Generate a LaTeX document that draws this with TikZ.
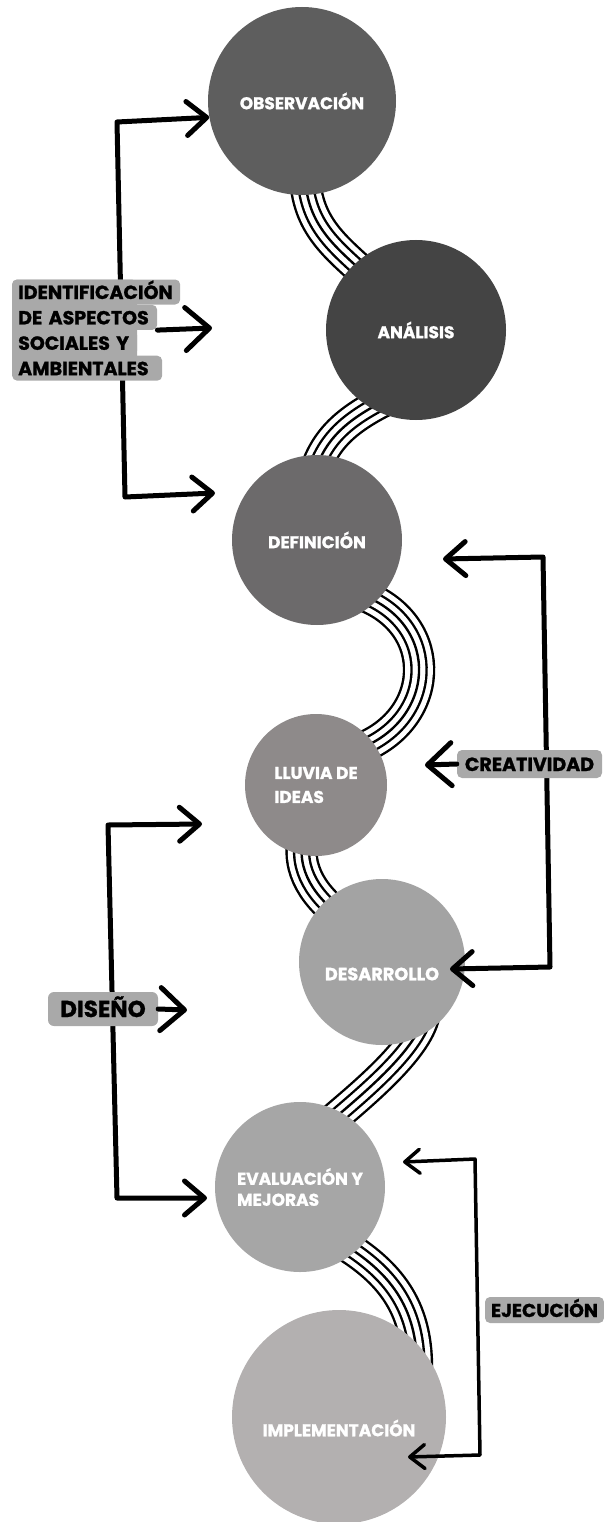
\documentclass[tikz,border=0pt]{standalone}
\usepackage{fontspec}
\setmainfont{Poppins}[BoldFeatures={FakeBold=1.2}]
\usetikzlibrary{arrows.meta,backgrounds,positioning}

\definecolor{grisobs}{HTML}{5E5E5E}
\definecolor{grisana}{HTML}{444444}
\definecolor{grisdef}{HTML}{6C6A6B}
\definecolor{grislluvia}{HTML}{8E8A8A}
\definecolor{grisdes}{HTML}{A3A3A3}
\definecolor{griseva}{HTML}{A6A6A6}
\definecolor{grisimp}{HTML}{B3B0B0}
\definecolor{gristag}{HTML}{A9A9A9}

\begin{document}
\begin{tikzpicture}[x=1pt,y=-1pt,>={Straight Barb[length=20pt,width=34pt,round]}]
	\tikzstyle{etapa} = [circle, inner sep=0pt, text=white, align=left, font=\bfseries\fontsize{17}{22}\selectfont]
	\tikzstyle{rotulo} = [text=white, font=\bfseries\fontsize{17}{22}\selectfont]
	\tikzstyle{tag} = [fill=gristag, rounded corners=5pt, inner xsep=6pt, inner ysep=0pt, text height=14pt, text depth=0pt, font=\bfseries\fontsize{19}{25}\selectfont]
	\tikzstyle{linea} = [tag, align=left, minimum height=25pt]
	\tikzstyle{flecha} = [line width=5pt, line cap=round, line join=round]
	\tikzstyle{flechap} = [flecha, line width=3.5pt, >={Straight Barb[length=15pt,width=24pt,round]}]
	\tikzstyle{puntag} = [-{Straight Barb[length=24pt,width=43pt,round]}]
	\tikzstyle{cinta} = [line width=2.4pt, preaction={draw, line width=32.4pt}, preaction={draw, white, line width=27.6pt}, preaction={draw, line width=17.4pt}, preaction={draw, white, line width=12.6pt}]
	
	\useasboundingbox (0,0) rectangle (604,1522);
	
	% etapas
	\node [etapa, fill=grisobs, minimum size=188pt] (obs) at (302,101) {OBSERVACIÓN};
	\node [etapa, fill=grisana, minimum size=180pt] (ana) at (416,330) {ANÁLISIS};
	\node [etapa, fill=grisdef, minimum size=170pt] (defi) at (317,540) {DEFINICIÓN};
	\node [etapa, fill=grislluvia, minimum size=142pt, font=\bfseries\fontsize{17}{24}\selectfont] (lluvia) at (316,785) {LLUVIA DE\\IDEAS};
	\node [etapa, fill=grisdes, minimum size=166pt, label={[rotulo, yshift=-12pt, font=\bfseries\fontsize{17.7}{22}\selectfont]center:DESARROLLO}] (desa) at (382,962) {};
	\node [etapa, fill=griseva, minimum size=170pt, font=\bfseries\fontsize{17}{21}\selectfont] (eval) at (300,1187) {EVALUACIÓN Y\\MEJORAS};
	\node [etapa, fill=grisimp, minimum size=214pt, label={[rotulo, yshift=-11pt]center:IMPLEMENTACIÓN}] (impl) at (339,1417) {};
	
	% cintas entre etapas
	\begin{scope}[on background layer]
	\draw [cinta] ([shift={(3,75)}]obs.center) .. controls +(2,50) and +(-30,-28) .. ([shift={(-50,-55)}]ana.center);
	\draw [cinta] ([shift={(-30,70)}]ana.center) .. controls +(-40,20) and +(10,-35) .. ([shift={(-3,-65)}]defi.center);
	\draw [cinta] ([shift={(45,55)}]defi.center) .. controls +(80,30) and +(80,-28) .. ([shift={(40,-35)}]lluvia.center);
	\draw [cinta] ([shift={(-12,50)}]lluvia.center) .. controls +(-10,35) and +(-25,-18) .. ([shift={(-40,-45)}]desa.center);
	\draw [cinta] ([shift={(43,50)}]desa.center) .. controls +(-5,35) and +(35,-30) .. ([shift={(30,-65)}]eval.center);
	\draw [cinta] ([shift={(40,55)}]eval.center) .. controls +(50,30) and +(0,-60) .. ([shift={(78,-50)}]impl.center);
	\end{scope}
	
	% esquinas de los corchetes
	\coordinate (idA) at (117,122);
	\coordinate (idB) at (125,497);
	\coordinate (idfin) at (215,493);
	\coordinate (idmed) at (212,328);
	\coordinate (crA) at (543,557);
	\coordinate (crini) at (443,559);
	\coordinate (crB) at (550,967);
	\coordinate (crfin) at (450,969);
	\coordinate (crmed) at (425,765);
	\coordinate (diA) at (108,825);
	\coordinate (diini) at (202,824);
	\coordinate (diB) at (117,1198);
	\coordinate (difin) at (207,1198);
	\coordinate (dimed) at (187,1010);
	\coordinate (ejA) at (475,1159);
	\coordinate (ejini) at (403,1162);
	\coordinate (ejB) at (480,1455);
	\coordinate (ejfin) at (408,1457);
	
	\draw [flecha, <->] (obs.190) -- (idA) -- (idB) -- (idfin);
	\draw [flecha, <->] (crini) -- (crA) -- (crB) -- (crfin);
	\draw [flecha, <->] (diini) -- (diA) -- (diB) -- (difin);
	\draw [flechap, <->] (ejini) -- (ejA) -- (ejB) -- (ejfin);
	
	% etiquetas
	\fill [gristag, rounded corners=5pt] (12,279.5) rectangle (137,379.5);
	\node [linea, anchor=west, text width=156pt] (id1) at (12,292) {\mbox{IDENTIFICACIÓN}};
	\node [linea, text width=133pt, below right=0pt and 0pt of id1.south west] (id2) {\mbox{DE ASPECTOS}};
	\node [linea, text width=113pt, below right=0pt and 0pt of id2.south west] (id3) {\mbox{SOCIALES Y}};
	\node [linea, text width=138pt, below right=0pt and 0pt of id3.south west] (id4) {\mbox{AMBIENTALES}};
	
	\node [tag, minimum width=110pt, minimum height=34pt, rounded corners=6pt, font=\bfseries\fontsize{23}{25}\selectfont, text height=16pt] (diseno) at (103,1009) {DISEÑO};
	\node [tag, minimum width=145pt, minimum height=28pt] (creat) at (529.5,764) {CREATIVIDAD};
	\node [tag, minimum width=119pt, minimum height=26pt, font=\bfseries\fontsize{18.7}{22}\selectfont] (ejec) at (544.5,1310) {EJECUCIÓN};
	
	\draw [flecha, puntag] (id2.south east) -- (idmed);
	\draw [flecha, puntag] (creat.west) -- (crmed);
	\draw [flecha, puntag] (diseno.east) -- (dimed);
\end{tikzpicture}
\end{document}
